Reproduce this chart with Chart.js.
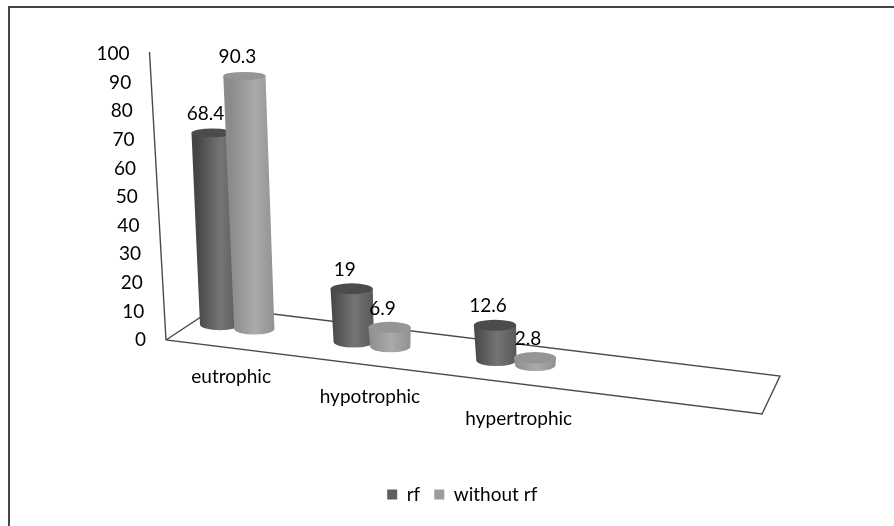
<!DOCTYPE html>
<html>
<head>
  <title>Nutritional status with and without rf</title>
  <style>
    html, body { margin: 0; background: #fff; }
    canvas { display: block; }
  </style>
</head>
<body>
  <canvas id="cylinderChart" width="894" height="526"></canvas>

  <script src="https://cdn.jsdelivr.net/npm/chart.js"></script>
  <script>
    const categories = ["eutrophic", "hypotrophic", "hypertrophic"];
    const seriesNames = ["rf", "without rf"];
    const rfValues = [68.4, 19, 12.6];
    const withoutRfValues = [90.3, 6.9, 2.8];

    const textFont = "Lato";
    const fontSize = 19;

    // Fake 3D view: the floor falls to the right and the cylinders lean with height
    const floorDrop = 0.13;      // px down per px right, along the row of cylinders
    const leanPerUnit = 0.11;    // px to the left per value unit
    const axisLean = 0.165;      // same idea for the slanted value axis
    const labelDrop = 0.144;
    const labelShift = [-6, -2, 3];

    // Cylinder colours: edge, centre, other edge, top cap
    const shades = [
      ["#454545", "#757575", "#585858", "#4b4b4b"],
      ["#8b8b8b", "#aaaaaa", "#929292", "#959595"],
    ];

    // Middle category sits a bit further left because of foreshortening
    function warpX(x, midX, step) {
      const t = (x - midX) / step;
      return x - 4.5 * (1 - t * t);
    }

    function drawCylinder(ctx, x, baseY, topX, topY, width, capHeight, colors) {
      const rx = width / 2;
      const grad = ctx.createLinearGradient(x - rx - 3, 0, x + rx, 0);
      grad.addColorStop(0, colors[0]);
      grad.addColorStop(0.55, colors[1]);
      grad.addColorStop(1, colors[2]);

      ctx.beginPath();
      ctx.moveTo(topX - rx - 1, topY);
      ctx.lineTo(x - rx, baseY);
      ctx.ellipse(x, baseY, rx, 5.5, 0, Math.PI, 0, true);
      ctx.lineTo(topX + rx + 1, topY);
      ctx.closePath();
      ctx.fillStyle = grad;
      ctx.fill();

      ctx.beginPath();
      ctx.ellipse(topX, topY, rx + 1, capHeight, 0, 0, Math.PI * 2);
      ctx.fillStyle = colors[3];
      ctx.fill();
    }

    const cylinderPlugin = {
      id: "cylinders",
      // Frame, floor and slanted axis, with its tick labels
      beforeDatasetsDraw(chart) {
        const ctx = chart.ctx;
        const y = chart.scales.y;
        const zeroY = y.getPixelForValue(0);
        const axisX = (v) => 166 - axisLean * v;

        ctx.save();
        ctx.strokeStyle = "#454545";
        ctx.lineWidth = 2;
        ctx.beginPath();
        ctx.moveTo(9, 526);
        ctx.lineTo(9, 7);
        ctx.lineTo(894, 7);
        ctx.stroke();

        ctx.lineWidth = 1.4;
        ctx.strokeStyle = "#4a4a4a";
        ctx.beginPath();
        ctx.moveTo(axisX(100), y.getPixelForValue(100) - 2);
        ctx.lineTo(axisX(0), zeroY);
        ctx.lineTo(762, 414);
        ctx.lineTo(780, 376);
        ctx.lineTo(216, 307);
        ctx.lineTo(axisX(0), zeroY);
        ctx.stroke();

        ctx.fillStyle = "#000";
        ctx.font = fontSize + "px " + textFont;
        ctx.textAlign = "right";
        ctx.textBaseline = "middle";
        y.ticks.forEach((tick) => {
          ctx.fillText(tick.label, axisX(tick.value) - 20, y.getPixelForValue(tick.value));
        });
        ctx.restore();
      },
      // Default bars are replaced by the cylinders below
      beforeDatasetDraw() {
        return false;
      },
      afterDatasetsDraw(chart) {
        const ctx = chart.ctx;
        const xScale = chart.scales.x;
        const yBars = chart.scales.yBars;
        const zeroY = yBars.getPixelForValue(0);
        const midX = xScale.getPixelForValue(1);
        const step = xScale.getPixelForValue(1) - xScale.getPixelForValue(0);
        const firstX = warpX(xScale.getPixelForValue(0), midX, step) - 18;
        const tops = [];

        categories.forEach((name, i) => {
          chart.data.datasets.forEach((dataset, d) => {
            const el = chart.getDatasetMeta(d).data[i];
            const v = dataset.data[i];
            const x = warpX(el.x, midX, step);
            const baseY = 324.5 + floorDrop * (x - firstX);
            const topX = x - leanPerUnit * v;
            const topY = baseY - (zeroY - yBars.getPixelForValue(v));
            // caps flatten as they get closer to eye level
            drawCylinder(ctx, x, baseY, topX, topY, el.width, 5.8 - 0.02 * v, shades[d]);
            tops.push({ text: String(v), x: topX - 7, y: topY - 19 });
          });
        });

        ctx.save();
        ctx.fillStyle = "#000";
        ctx.font = fontSize + "px " + textFont;
        ctx.textAlign = "center";
        ctx.textBaseline = "middle";
        tops.forEach((t) => ctx.fillText(t.text, t.x, t.y));

        // Category names step down along the floor edge
        const firstLabelX = warpX(xScale.getPixelForValue(0), midX, step) + labelShift[0];
        categories.forEach((name, i) => {
          const lx = warpX(xScale.getPixelForValue(i), midX, step) + labelShift[i];
          ctx.fillText(name, lx, 377 + labelDrop * (lx - firstLabelX));
        });
        ctx.restore();
      },
    };

    new Chart(document.getElementById("cylinderChart"), {
      type: "bar",
      data: {
        // two empty slots: the floor runs on past the last group
        labels: [...categories, "", ""],
        datasets: [
          { label: seriesNames[0], data: rfValues, yAxisID: "yBars", backgroundColor: "#5f5f5f", borderWidth: 0 },
          { label: seriesNames[1], data: withoutRfValues, yAxisID: "yBars", backgroundColor: "#9c9c9c", borderWidth: 0 },
        ],
      },
      options: {
        responsive: false,
        animation: false,
        categoryPercentage: 0.525,
        barPercentage: 1.1,
        layout: { padding: { left: 60.5, right: 30, top: 54, bottom: 12 } },
        plugins: {
          tooltip: { enabled: false },
          legend: {
            position: "bottom",
            labels: {
              boxWidth: 10,
              boxHeight: 10,
              padding: 14,
              color: "#000",
              font: { family: textFont, size: fontSize },
            },
          },
        },
        scales: {
          x: {
            grid: { display: false },
            border: { display: false },
            ticks: { display: false },
            afterFit(scale) { scale.height = 131; },
          },
          y: {
            min: 0,
            max: 100,
            position: "left",
            grid: { display: false },
            border: { display: false },
            ticks: { stepSize: 10, display: false },
            afterFit(scale) { scale.width = 107; },
          },
          // cylinders stand a little further back than the axis, so they run slightly shorter
          yBars: {
            min: 0,
            max: 102,
            display: false,
          },
        },
      },
      plugins: [cylinderPlugin],
    });
  </script>
</body>
</html>
